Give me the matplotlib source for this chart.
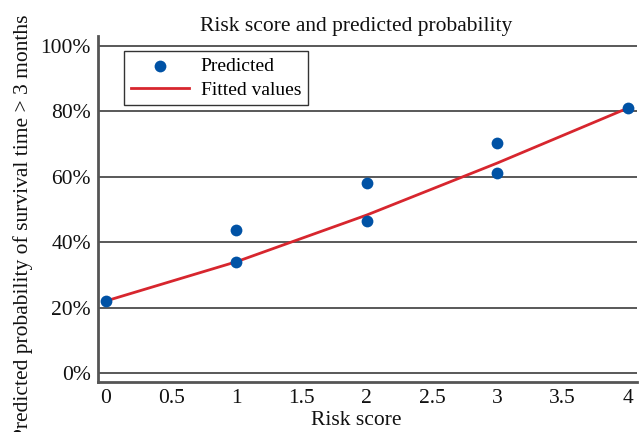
import matplotlib
matplotlib.use('Agg')
import matplotlib.pyplot as plt

plt.rcParams['font.family'] = ['Liberation Serif', 'DejaVu Serif']

# observed predicted probabilities (%)
riskScore = [0, 1, 1, 2, 2, 3, 3, 4]
predicted = [22.0, 43.7, 34.0, 58.1, 46.4, 70.3, 61.2, 81.0]

# fitted curve (%)
fitScore = [0, 1, 2, 3, 4]
fitted = [22.0, 34.0, 48.3, 64.2, 81.0]

yTicks = [0, 20, 40, 60, 80, 100]
yTickLabels = ['0%', '20%', '40%', '60%', '80%', '100%']
xTicks = [0, 0.5, 1, 1.5, 2, 2.5, 3, 3.5, 4]
xTickLabels = ['0', '0.5', '1', '1.5', '2', '2.5', '3', '3.5', '4']

fig = plt.figure(figsize=(6.4, 4.32), dpi=100)
ax = fig.add_axes([0.153, 0.116, 0.842, 0.801])

for yv in yTicks:
    ax.axhline(yv, color='#2b2b2b', linewidth=1.1, zorder=1)

ax.plot(fitScore, fitted, color='#d7262e', linewidth=2, zorder=2, label='Fitted values')
ax.scatter(riskScore, predicted, s=72, color='#0052a5', zorder=3, label='Predicted', linewidths=0)

ax.set_xlim(-0.061, 4.069)
ax.set_ylim(-2.75, 103.1)
ax.set_yticks(yTicks)
ax.set_yticklabels(yTickLabels)
ax.set_xticks(xTicks)
ax.set_xticklabels(xTickLabels)
ax.tick_params(axis='both', length=0, labelsize=15.5, colors='#111111')
ax.tick_params(axis='y', pad=5)
ax.tick_params(axis='x', pad=5)

for side in ['top', 'right']:
    ax.spines[side].set_visible(False)
for side in ['left', 'bottom']:
    ax.spines[side].set_color('#555555')
    ax.spines[side].set_linewidth(2)

ax.set_title('Risk score and predicted probability', fontsize=15.5, pad=-2, color='#111111', x=0.48)
ax.set_xlabel('Risk score', fontsize=15.5, color='#111111')
ax.xaxis.set_label_coords(0.48, -0.085)
ax.set_ylabel('Predicted probability of survival time > 3 months', fontsize=15.5, color='#111111')
ax.yaxis.set_label_coords(-0.12, 0.448)

handles, labels = ax.get_legend_handles_labels()
leg = ax.legend(handles[::-1], labels[::-1], loc='upper left', bbox_to_anchor=(0.048, 0.957),
                borderaxespad=0, fontsize=14, frameon=True, fancybox=False, edgecolor='black',
                handlelength=3.0, borderpad=0.35, labelspacing=0.3, handletextpad=0.6)
leg.get_frame().set_linewidth(1.0)

fig.savefig('out.png', dpi=100)
